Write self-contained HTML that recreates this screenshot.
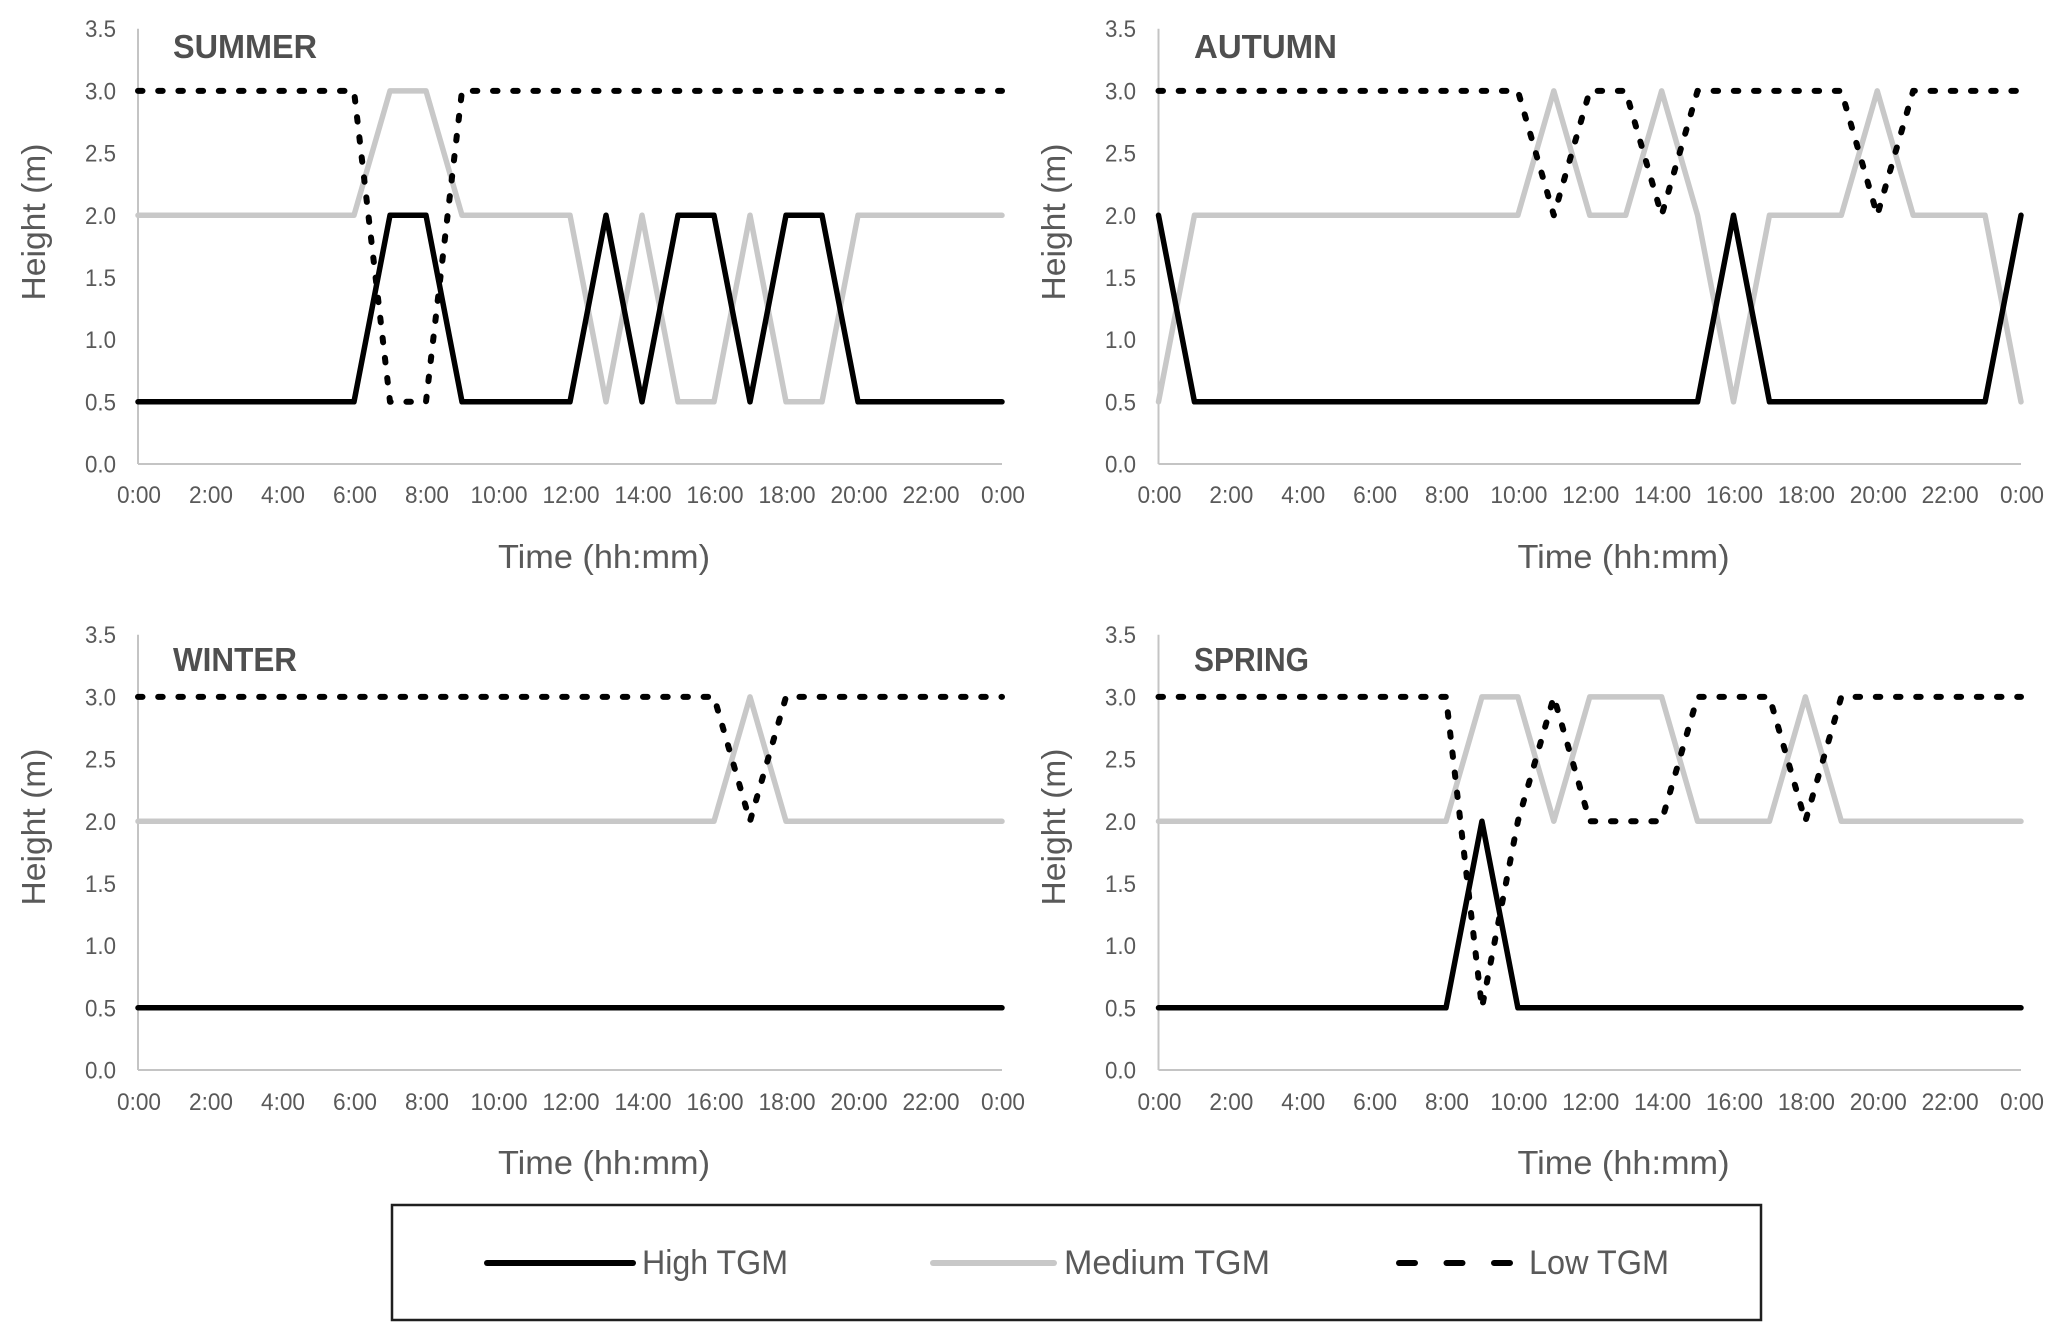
<!DOCTYPE html>
<html lang="en">
<head>
<meta charset="utf-8">
<title>TGM height by season</title>
<style>
html,body{margin:0;padding:0;background:#fff;}
svg{display:block;}
text{font-family:"Liberation Sans",sans-serif;fill:#595959;}
.season{font-weight:bold;fill:#4f4f4f;}
</style>
</head>
<body>
<svg id="chart" width="2067" height="1340" viewBox="0 0 2067 1340" xmlns="http://www.w3.org/2000/svg">
  <rect x="0" y="0" width="2067" height="1340" fill="#fff"/>

  <g id="panel-summer">
    <text class="season" x="173" y="58" font-size="33" textLength="144" lengthAdjust="spacingAndGlyphs">SUMMER</text>
    <text transform="translate(45,222) rotate(-90)" text-anchor="middle" font-size="33" textLength="157" lengthAdjust="spacingAndGlyphs">Height (m)</text>
    <text x="604" y="568" text-anchor="middle" font-size="33" textLength="212" lengthAdjust="spacingAndGlyphs">Time (hh:mm)</text>
  </g>
  <g id="panel-autumn">
    <text class="season" x="1194" y="58" font-size="33" textLength="143" lengthAdjust="spacingAndGlyphs">AUTUMN</text>
    <text transform="translate(1065,222) rotate(-90)" text-anchor="middle" font-size="33" textLength="157" lengthAdjust="spacingAndGlyphs">Height (m)</text>
    <text x="1623.5" y="568" text-anchor="middle" font-size="33" textLength="212" lengthAdjust="spacingAndGlyphs">Time (hh:mm)</text>
  </g>
  <g id="panel-winter">
    <text class="season" x="173" y="671" font-size="33" textLength="124" lengthAdjust="spacingAndGlyphs">WINTER</text>
    <text transform="translate(45,827) rotate(-90)" text-anchor="middle" font-size="33" textLength="157" lengthAdjust="spacingAndGlyphs">Height (m)</text>
    <text x="604" y="1174" text-anchor="middle" font-size="33" textLength="212" lengthAdjust="spacingAndGlyphs">Time (hh:mm)</text>
  </g>
  <g id="panel-spring">
    <text class="season" x="1194" y="671" font-size="33" textLength="115" lengthAdjust="spacingAndGlyphs">SPRING</text>
    <text transform="translate(1065,827) rotate(-90)" text-anchor="middle" font-size="33" textLength="157" lengthAdjust="spacingAndGlyphs">Height (m)</text>
    <text x="1623.5" y="1174" text-anchor="middle" font-size="33" textLength="212" lengthAdjust="spacingAndGlyphs">Time (hh:mm)</text>
  </g>

  <g id="legend">
    <rect x="392" y="1205" width="1369" height="115" fill="#fff" stroke="#1f1f1f" stroke-width="2.5"/>
    <line x1="487" y1="1263" x2="633" y2="1263" stroke="#000" stroke-width="6" stroke-linecap="round"/>
    <text x="642" y="1274" font-size="34" textLength="146" lengthAdjust="spacingAndGlyphs">High TGM</text>
    <line x1="933" y1="1263" x2="1054" y2="1263" stroke="#c8c8c8" stroke-width="6" stroke-linecap="round"/>
    <text x="1064" y="1274" font-size="34" textLength="206" lengthAdjust="spacingAndGlyphs">Medium TGM</text>
    <line x1="1399" y1="1263" x2="1511" y2="1263" stroke="#000" stroke-width="6" stroke-linecap="round" stroke-dasharray="16 31.5"/>
    <text x="1529" y="1274" font-size="34" textLength="140" lengthAdjust="spacingAndGlyphs">Low TGM</text>
  </g>
</svg>

<script>
const hours = [0,1,2,3,4,5,6,7,8,9,10,11,12,13,14,15,16,17,18,19,20,21,22,23,24];
const xTickLabels = ["0:00","2:00","4:00","6:00","8:00","10:00","12:00","14:00","16:00","18:00","20:00","22:00","0:00"];
const yTickLabels = ["0.0","0.5","1.0","1.5","2.0","2.5","3.0","3.5"];
const yTickValues = [0,0.5,1,1.5,2,2.5,3,3.5];

const summerHigh   = [0.5,0.5,0.5,0.5,0.5,0.5,0.5,2,2,0.5,0.5,0.5,0.5,2,0.5,2,2,0.5,2,2,0.5,0.5,0.5,0.5,0.5];
const summerMedium = [2,2,2,2,2,2,2,3,3,2,2,2,2,0.5,2,0.5,0.5,2,0.5,0.5,2,2,2,2,2];
const summerLow    = [3,3,3,3,3,3,3,0.5,0.5,3,3,3,3,3,3,3,3,3,3,3,3,3,3,3,3];

const autumnHigh   = [2,0.5,0.5,0.5,0.5,0.5,0.5,0.5,0.5,0.5,0.5,0.5,0.5,0.5,0.5,0.5,2,0.5,0.5,0.5,0.5,0.5,0.5,0.5,2];
const autumnMedium = [0.5,2,2,2,2,2,2,2,2,2,2,3,2,2,3,2,0.5,2,2,2,3,2,2,2,0.5];
const autumnLow    = [3,3,3,3,3,3,3,3,3,3,3,2,3,3,2,3,3,3,3,3,2,3,3,3,3];

const winterHigh   = [0.5,0.5,0.5,0.5,0.5,0.5,0.5,0.5,0.5,0.5,0.5,0.5,0.5,0.5,0.5,0.5,0.5,0.5,0.5,0.5,0.5,0.5,0.5,0.5,0.5];
const winterMedium = [2,2,2,2,2,2,2,2,2,2,2,2,2,2,2,2,2,3,2,2,2,2,2,2,2];
const winterLow    = [3,3,3,3,3,3,3,3,3,3,3,3,3,3,3,3,3,2,3,3,3,3,3,3,3];

const springHigh   = [0.5,0.5,0.5,0.5,0.5,0.5,0.5,0.5,0.5,2,0.5,0.5,0.5,0.5,0.5,0.5,0.5,0.5,0.5,0.5,0.5,0.5,0.5,0.5,0.5];
const springMedium = [2,2,2,2,2,2,2,2,2,3,3,2,3,3,3,2,2,2,3,2,2,2,2,2,2];
const springLow    = [3,3,3,3,3,3,3,3,3,0.5,2,3,2,2,2,3,3,3,2,3,3,3,3,3,3];

const SVG_NS = "http://www.w3.org/2000/svg";

function makeXScale(left, right) {
  return function (hour) { return left + (hour / 24) * (right - left); };
}
function makeYScale(bottom, top) {
  return function (value) { return bottom - (value / 3.5) * (bottom - top); };
}

function drawAxes(group, season, xScale, yScale, yLabelRight, xLabelBaseline) {
  const yAxis = document.createElementNS(SVG_NS, "line");
  
  
  yAxis.setAttribute("x1", xScale(0));
  yAxis.setAttribute("x2", xScale(0));
  yAxis.setAttribute("y1", yScale(3.5));
  yAxis.setAttribute("y2", yScale(0));
  yAxis.setAttribute("stroke", "#c4c4c4");
  yAxis.setAttribute("stroke-width", "2");
  group.appendChild(yAxis);

  const xAxis = document.createElementNS(SVG_NS, "line");
  
  
  xAxis.setAttribute("x1", xScale(0));
  xAxis.setAttribute("x2", xScale(24));
  xAxis.setAttribute("y1", yScale(0));
  xAxis.setAttribute("y2", yScale(0));
  xAxis.setAttribute("stroke", "#c4c4c4");
  xAxis.setAttribute("stroke-width", "2");
  group.appendChild(xAxis);

  yTickLabels.forEach(function (label, i) {
    const t = document.createElementNS(SVG_NS, "text");
    
    
    t.setAttribute("x", yLabelRight);
    t.setAttribute("y", yScale(yTickValues[i]) + 8.5);
    t.setAttribute("text-anchor", "end");
    t.setAttribute("font-size", "24");
    t.setAttribute("textLength", "31");
    t.setAttribute("lengthAdjust", "spacingAndGlyphs");
    t.textContent = label;
    group.appendChild(t);
  });

  xTickLabels.forEach(function (label, i) {
    const t = document.createElementNS(SVG_NS, "text");
    
    
    t.setAttribute("x", xScale(hours[i * 2]) + 1);
    t.setAttribute("y", xLabelBaseline);
    t.setAttribute("text-anchor", "middle");
    t.setAttribute("font-size", "24");
    t.setAttribute("textLength", label.length === 4 ? "44" : "57");
    t.setAttribute("lengthAdjust", "spacingAndGlyphs");
    t.textContent = label;
    group.appendChild(t);
  });
}

function drawSeries(group, name, values, xScale, yScale, color, width, dash) {
  const points = values.map(function (v, i) {
    return xScale(hours[i]).toFixed(2) + "," + yScale(v).toFixed(2);
  }).join(" ");
  const line = document.createElementNS(SVG_NS, "polyline");
  
  
  line.setAttribute("points", points);
  line.setAttribute("fill", "none");
  line.setAttribute("stroke", color);
  line.setAttribute("stroke-width", width);
  line.setAttribute("stroke-linejoin", "round");
  line.setAttribute("stroke-linecap", "round");
  if (dash) line.setAttribute("stroke-dasharray", dash);
  group.appendChild(line);
}

function drawPanel(season, high, medium, low, left, right, bottom, top, yLabelRight, xLabelBaseline) {
  const group = document.getElementById("panel-" + season);
  const xScale = makeXScale(left, right);
  const yScale = makeYScale(bottom, top);
  drawAxes(group, season, xScale, yScale, yLabelRight, xLabelBaseline);
  drawSeries(group, season + "-medium-tgm-line", medium, xScale, yScale, "#c8c8c8", "5.5", null);
  drawSeries(group, season + "-high-tgm-line", high, xScale, yScale, "#000000", "5.5", null);
  drawSeries(group, season + "-low-tgm-line", low, xScale, yScale, "#000000", "6", "4.5 15.7");
}

drawPanel("summer", summerHigh, summerMedium, summerLow, 138, 1002, 464, 28.7, 116, 503);
drawPanel("autumn", autumnHigh, autumnMedium, autumnLow, 1158.5, 2021, 464, 28.7, 1136, 503);
drawPanel("winter", winterHigh, winterMedium, winterLow, 138, 1002, 1070, 634.7, 116, 1110);
drawPanel("spring", springHigh, springMedium, springLow, 1158.5, 2021, 1070, 634.7, 1136, 1110);
</script>
</body>
</html>
